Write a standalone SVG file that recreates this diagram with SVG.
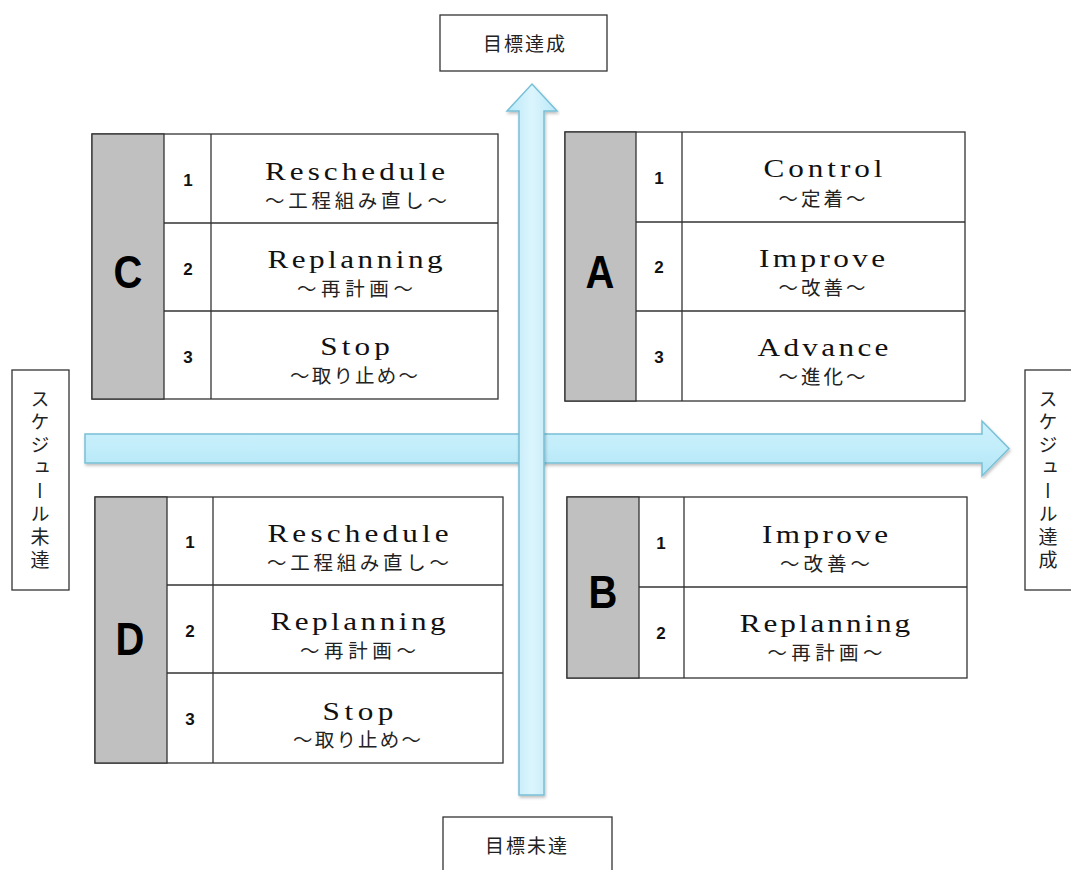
<svg xmlns="http://www.w3.org/2000/svg" width="1071" height="870" viewBox="0 0 1071 870">
<defs>
<linearGradient id="gh" x1="0" y1="0" x2="0" y2="1">
<stop offset="0" stop-color="#cdf1fc"/><stop offset="0.5" stop-color="#c2edfa"/><stop offset="1" stop-color="#b0e4f5"/>
</linearGradient>
<linearGradient id="gv" x1="0" y1="0" x2="1" y2="0">
<stop offset="0" stop-color="#b8e8f8"/><stop offset="0.5" stop-color="#dcf5fd"/><stop offset="1" stop-color="#b8e8f8"/>
</linearGradient>
<filter id="sh" x="-5%" y="-5%" width="110%" height="110%">
<feDropShadow dx="1" dy="2" stdDeviation="1.5" flood-color="#000" flood-opacity="0.25"/>
</filter>
</defs>
<style>
.box{fill:#fff;stroke:#333;stroke-width:1.3}
.gray{fill:#c0c0c0;stroke:#333;stroke-width:1.3}
.ln{stroke:#333;stroke-width:1.3;fill:none}
.lab{font-family:"Noto Sans CJK JP",sans-serif;font-size:19px;fill:#222;text-anchor:middle}
.en{font-family:"Liberation Serif",serif;font-size:26px;fill:#111;text-anchor:middle}
.jp{font-family:"Noto Sans CJK JP",sans-serif;font-size:19.5px;fill:#222;text-anchor:middle}
.num{font-family:"Liberation Sans",sans-serif;font-weight:bold;font-size:17px;fill:#111;text-anchor:middle}
.big{font-family:"Liberation Sans",sans-serif;font-weight:bold;font-size:47px;fill:#000;text-anchor:middle}
.arr{stroke:#78c0d6;stroke-width:1.5;filter:url(#sh)}
</style>
<rect width="1071" height="870" fill="#fff"/>

<g id="connectors">
<polygon class="arr" fill="url(#gh)" points="85,434 982,434 982,421 1009,448.5 982,476 982,463 85,463"/>
<polygon class="arr" fill="url(#gv)" points="519,795 519,111 507,111 532,84 557,111 544,111 544,795"/>
</g>

<g id="goal-achieved">
<rect class="box" x="440" y="15" width="167" height="56"/>
<text class="lab" x="524" y="51" textLength="82">目標達成</text>
</g>
<g id="goal-not-achieved">
<rect class="box" x="443" y="817" width="169" height="60"/>
<text class="lab" x="526" y="853" textLength="82">目標未達</text>
</g>
<g id="schedule-not-achieved">
<rect class="box" x="12" y="370" width="57" height="220"/>
<text class="lab" x="40" y="389" writing-mode="vertical-rl" style="text-anchor:start;letter-spacing:4px">スケジュール未達</text>
</g>
<g id="schedule-achieved">
<rect class="box" x="1025" y="370" width="50" height="220"/>
<text class="lab" x="1048" y="389" writing-mode="vertical-rl" style="text-anchor:start;letter-spacing:4px">スケジュール達成</text>
</g>

<g id="table-C">
<rect class="box" x="92" y="134" width="406" height="265"/>
<rect class="gray" x="92" y="134" width="72" height="265"/>
<line class="ln" x1="211" y1="134" x2="211" y2="399"/>
<line class="ln" x1="164" y1="223" x2="498" y2="223"/>
<line class="ln" x1="164" y1="311" x2="498" y2="311"/>
<text class="big" transform="translate(128,288) scale(0.85,1)">C</text>
<text class="num" x="188" y="186">1</text>
<text class="num" x="188" y="275">2</text>
<text class="num" x="188" y="363">3</text>
<text class="en" transform="translate(355,180) scale(1.2,1)" textLength="150" lengthAdjust="spacing">Reschedule</text>
<text class="jp" x="356" y="208" textLength="182" lengthAdjust="spacing">〜工程組み直し〜</text>
<text class="en" transform="translate(355,268) scale(1.2,1)" textLength="146" lengthAdjust="spacing">Replanning</text>
<text class="jp" x="355" y="296" textLength="116" lengthAdjust="spacing">〜再計画〜</text>
<text class="en" transform="translate(355,355) scale(1.2,1)" textLength="58" lengthAdjust="spacing">Stop</text>
<text class="jp" x="354" y="383" textLength="128" lengthAdjust="spacing">〜取り止め〜</text>
</g>

<g id="table-A">
<rect class="box" x="565" y="132" width="400" height="269"/>
<rect class="gray" x="565" y="132" width="71" height="269"/>
<line class="ln" x1="682" y1="132" x2="682" y2="401"/>
<line class="ln" x1="636" y1="222" x2="965" y2="222"/>
<line class="ln" x1="636" y1="311" x2="965" y2="311"/>
<text class="big" transform="translate(600,288) scale(0.85,1)">A</text>
<text class="num" x="659" y="184">1</text>
<text class="num" x="659" y="273">2</text>
<text class="num" x="659" y="363">3</text>
<text class="en" transform="translate(823,177) scale(1.2,1)" textLength="99" lengthAdjust="spacing">Control</text>
<text class="jp" x="822" y="206" textLength="87" lengthAdjust="spacing">〜定着〜</text>
<text class="en" transform="translate(822,267) scale(1.2,1)" textLength="105" lengthAdjust="spacing">Improve</text>
<text class="jp" x="822" y="295" textLength="87" lengthAdjust="spacing">〜改善〜</text>
<text class="en" transform="translate(823,356) scale(1.2,1)" textLength="109" lengthAdjust="spacing">Advance</text>
<text class="jp" x="822" y="384" textLength="87" lengthAdjust="spacing">〜進化〜</text>
</g>

<g id="table-B">
<rect class="box" x="567" y="497" width="400" height="181"/>
<rect class="gray" x="567" y="497" width="72" height="181"/>
<line class="ln" x1="684" y1="497" x2="684" y2="678"/>
<line class="ln" x1="639" y1="587" x2="967" y2="587"/>
<text class="big" transform="translate(603,608) scale(0.85,1)">B</text>
<text class="num" x="661" y="549">1</text>
<text class="num" x="661" y="639">2</text>
<text class="en" transform="translate(825,543) scale(1.2,1)" textLength="105" lengthAdjust="spacing">Improve</text>
<text class="jp" x="825" y="571" textLength="90" lengthAdjust="spacing">〜改善〜</text>
<text class="en" transform="translate(825,632) scale(1.2,1)" textLength="142" lengthAdjust="spacing">Replanning</text>
<text class="jp" x="825" y="660" textLength="115" lengthAdjust="spacing">〜再計画〜</text>
</g>

<g id="table-D">
<rect class="box" x="95" y="497" width="408" height="266"/>
<rect class="gray" x="95" y="497" width="72" height="266"/>
<line class="ln" x1="213" y1="497" x2="213" y2="763"/>
<line class="ln" x1="167" y1="585" x2="503" y2="585"/>
<line class="ln" x1="167" y1="673" x2="503" y2="673"/>
<text class="big" transform="translate(130,655) scale(0.85,1)">D</text>
<text class="num" x="190" y="548">1</text>
<text class="num" x="190" y="637">2</text>
<text class="num" x="190" y="725">3</text>
<text class="en" transform="translate(358,542) scale(1.2,1)" textLength="151" lengthAdjust="spacing">Reschedule</text>
<text class="jp" x="358" y="570" textLength="182" lengthAdjust="spacing">〜工程組み直し〜</text>
<text class="en" transform="translate(358,630) scale(1.2,1)" textLength="146" lengthAdjust="spacing">Replanning</text>
<text class="jp" x="358" y="658" textLength="116" lengthAdjust="spacing">〜再計画〜</text>
<text class="en" transform="translate(358,720) scale(1.2,1)" textLength="59" lengthAdjust="spacing">Stop</text>
<text class="jp" x="357" y="747" textLength="128" lengthAdjust="spacing">〜取り止め〜</text>
</g>
</svg>
